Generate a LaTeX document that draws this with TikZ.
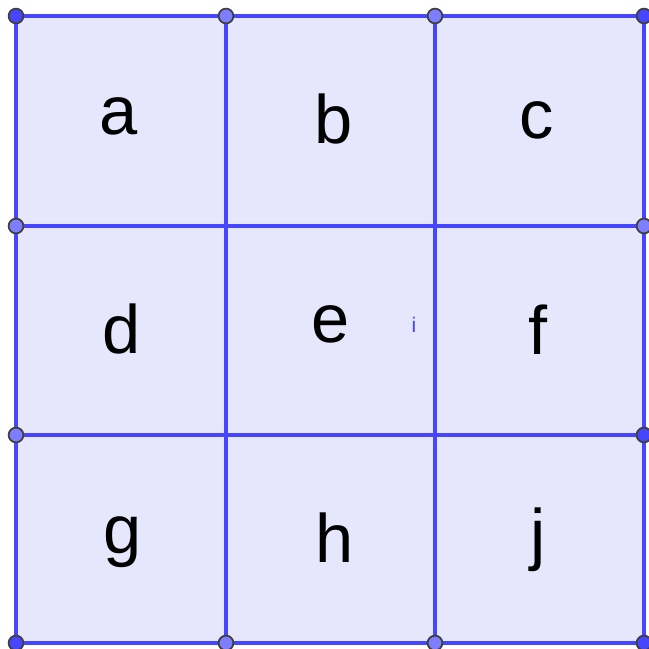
\documentclass[tikz,border=0pt]{standalone}
\usepackage{fontspec}
\setmainfont{Liberation Sans}
\definecolor{gridline}{RGB}{70,70,255}
\definecolor{cellfill}{RGB}{230,230,252}
\definecolor{freept} {RGB}{70,70,255}
\definecolor{deppt}  {RGB}{125,125,255}
\begin{document}
\begin{tikzpicture}[x=0.01cm, y=-0.01cm, font=\fontsize{19.5}{22}\selectfont,
  freedot/.style={fill=freept, draw=black!75, line width=0.5pt},
  depdot/.style={fill=deppt, draw=black!75, line width=0.5pt}]
  \useasboundingbox (0,0) rectangle (648,649);
  % cells
  \fill[cellfill] (16,16) rectangle (644,643);
  % grid lines
  \foreach \p in {16,226,435,644}
    \draw[gridline, line width=1.1pt] (\p,16) -- (\p,643);
  \foreach \q in {16,226,435,643}
    \draw[gridline, line width=1.1pt] (16,\q) -- (644,\q);
  % cell labels
  \foreach \t/\x/\y in {a/119/116, b/334/119, c/537/120,
                        d/122/329, e/331/324, f/538/330,
                        g/123/542, h/335/538, j/538/540}
    \node[inner sep=0pt] (\t) at (\x,\y) {\t};
  \node[gridline, inner sep=0pt, font=\fontsize{6}{7}\selectfont] (i) at (414,325) {i};
  % points on the border
  \foreach \x/\y in {226/16, 435/16, 16/226, 16/435, 644/226, 226/643, 435/643}
    \draw[depdot] (\x,\y) circle (2.1pt);
  \foreach \x/\y in {16/16, 644/16, 16/643, 644/643, 644/435}
    \draw[freedot] (\x,\y) circle (2.1pt);
\end{tikzpicture}
\end{document}
